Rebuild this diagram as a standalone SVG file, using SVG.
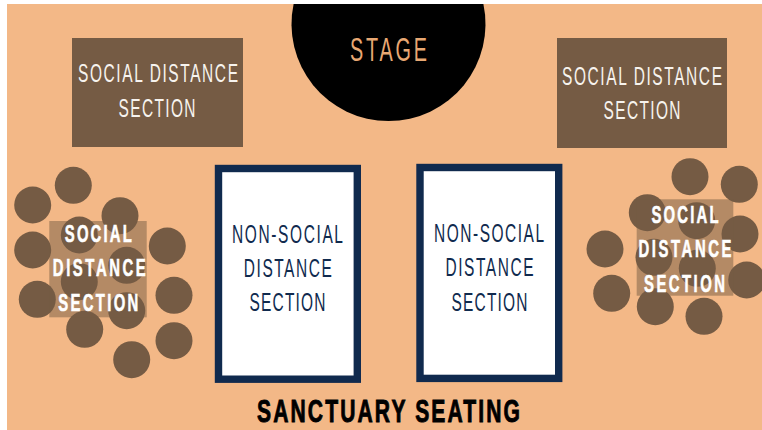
<svg xmlns="http://www.w3.org/2000/svg" width="762" height="430" viewBox="0 0 762 430">
<style>
text{font-family:"Liberation Sans Narrow","Liberation Sans",sans-serif;text-anchor:middle}
.s{fill:#755b44}
.l{font-size:25px;fill:#f7f3ee}
.b{font-size:24px;font-weight:700;fill:#fff;stroke:#fff;stroke-width:.6px}
.n{font-size:25px;fill:#102a4e}
.p{fill:#fff;stroke:#102a4e;stroke-width:7.400}
</style>
<rect x="7" y="4" width="755" height="426" fill="#f3b887"/>
<g id="stage"><path d="M293.600 4H483.400A97 97 0 1 1 293.600 4Z" fill="#000"/>
<text transform="translate(388.500 61) scale(.6 1)" font-size="33" fill="#e8a873" textLength="128.300" lengthAdjust="spacing">STAGE</text></g>
<g id="social-left"><rect class="s" x="72" y="38" width="171" height="109"/>
<text class="l" transform="translate(158 82) scale(.62 1)" textLength="258" lengthAdjust="spacing">SOCIAL DISTANCE</text>
<text class="l" transform="translate(157 116.500) scale(.62 1)" textLength="124.200" lengthAdjust="spacing">SECTION</text></g>
<g id="social-right"><rect class="s" x="557" y="38" width="170" height="110"/>
<text class="l" transform="translate(642 85) scale(.62 1)" textLength="258" lengthAdjust="spacing">SOCIAL DISTANCE</text>
<text class="l" transform="translate(642 119) scale(.62 1)" textLength="124.200" lengthAdjust="spacing">SECTION</text></g>
<g id="non-social-left"><rect class="p" x="218.500" y="168.500" width="138.800" height="210.700"/>
<text class="n" transform="translate(287.500 242.500) scale(.62 1)" textLength="179" lengthAdjust="spacing">NON-SOCIAL</text>
<text class="n" transform="translate(287.800 277) scale(.62 1)" textLength="141.900" lengthAdjust="spacing">DISTANCE</text>
<text class="n" transform="translate(287.500 311) scale(.62 1)" textLength="122.600" lengthAdjust="spacing">SECTION</text></g>
<g id="non-social-right"><rect class="p" x="420" y="167.500" width="138.700" height="210.900"/>
<text class="n" transform="translate(489 242) scale(.62 1)" textLength="177.400" lengthAdjust="spacing">NON-SOCIAL</text>
<text class="n" transform="translate(489.500 276) scale(.62 1)" textLength="141.900" lengthAdjust="spacing">DISTANCE</text>
<text class="n" transform="translate(489.500 311) scale(.62 1)" textLength="122.600" lengthAdjust="spacing">SECTION</text></g>
<g id="cluster-left">
<g class="s"><circle cx="73.300" cy="185.300" r="18.500"/><circle cx="32.700" cy="205" r="18.500"/><circle cx="120" cy="215.700" r="18.500"/><circle cx="79.300" cy="235" r="18.500"/><circle cx="32.700" cy="250" r="18.500"/><circle cx="167.300" cy="246" r="18.500"/><circle cx="126.700" cy="265.300" r="18.500"/><circle cx="79.300" cy="281.700" r="18.500"/><circle cx="37.300" cy="299.300" r="18.500"/><circle cx="174" cy="295.300" r="18.500"/><circle cx="126.700" cy="310.700" r="18.500"/><circle cx="84.700" cy="329.300" r="18.500"/><circle cx="174" cy="340.700" r="18.500"/><circle cx="131.700" cy="359.700" r="18.500"/></g>
<rect class="s" x="49.300" y="221" width="97.400" height="96.300" opacity=".5"/>
<text class="b" transform="translate(98.300 241.700) scale(.62 1)" textLength="108" lengthAdjust="spacing">SOCIAL</text>
<text class="b" transform="translate(99.300 275.700) scale(.62 1)" textLength="150" lengthAdjust="spacing">DISTANCE</text>
<text class="b" transform="translate(98.300 310.700) scale(.62 1)" textLength="129" lengthAdjust="spacing">SECTION</text></g>
<g id="cluster-right">
<g class="s"><circle cx="690" cy="176.700" r="18.500"/><circle cx="739.300" cy="184.300" r="18.500"/><circle cx="647.300" cy="212.700" r="18.500"/><circle cx="696.700" cy="220.700" r="18.500"/><circle cx="740" cy="234" r="18.500"/><circle cx="605" cy="249" r="18.500"/><circle cx="654" cy="257.300" r="18.500"/><circle cx="697.300" cy="268.300" r="18.500"/><circle cx="746.700" cy="280" r="18.500"/><circle cx="611.700" cy="293.300" r="18.500"/><circle cx="655.300" cy="306.700" r="18.500"/><circle cx="704" cy="316.300" r="18.500"/></g>
<rect class="s" x="636.700" y="199.300" width="96.600" height="96.400" opacity=".5"/>
<text class="b" transform="translate(685 223.300) scale(.62 1)" textLength="108" lengthAdjust="spacing">SOCIAL</text>
<text class="b" transform="translate(685 257.300) scale(.62 1)" textLength="150" lengthAdjust="spacing">DISTANCE</text>
<text class="b" transform="translate(684.500 291.700) scale(.62 1)" textLength="130.600" lengthAdjust="spacing">SECTION</text></g>
<text id="title" transform="translate(388.500 422.300) scale(.68 1)" font-size="31" font-weight="700" fill="#000" stroke="#000" stroke-width=".9" textLength="386.800" lengthAdjust="spacing">SANCTUARY SEATING</text>
</svg>
